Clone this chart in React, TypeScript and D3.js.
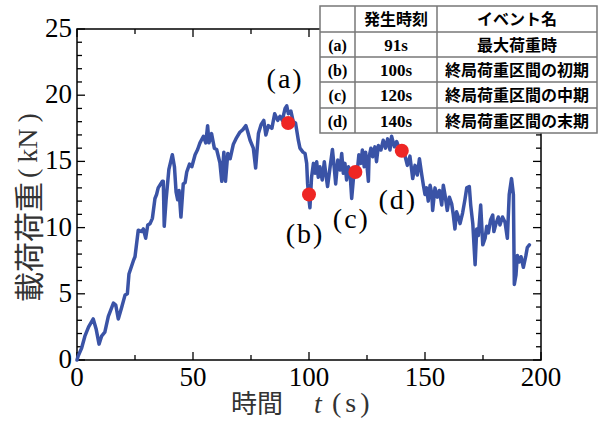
import React from "react";
import * as d3 from "d3";

const timeS: number[] = [0,0.5,2,3.4,5,7,8.3,9.5,10.6,12,13.5,15.7,16.7,17.8,19.3,20.7,21.7,22.4,24.3,25,26.4,27.9,28.6,29.6,30.5,31.5,32.5,33.6,34.3,35,36.8,37.2,37.6,38.4,39.6,41.1,42,42.7,43.4,44,44.8,45.8,46.6,47.3,48.5,49.5,50.9,52,53,54.5,55.5,56.3,56.9,58,59.2,60.2,61.6,62.4,63.3,64,65,66,67.4,68.8,70.2,71.5,72.8,73.5,74.6,76,77,78.2,79.4,80.5,81.4,82.5,84,85.2,86.5,87.5,88.5,89.7,90.4,91.1,92.2,93.2,94.2,95.4,96.1,97.4,98.3,99,99.4,100,100.4,101.1,101.9,102.6,103.3,104,104.7,105.7,106.6,107.2,108,109.1,110.1,110.9,111.5,112.4,113.4,114.1,114.8,115.5,116.2,117,117.7,118.4,119.1,119.8,121,121.5,122.4,123,123.8,124.4,125.3,125.6,125.9,126.7,127.4,128.4,129.1,129.9,131,132,133,133.9,134.9,135.6,136.8,137.8,138.8,140,141.4,142.4,143.5,144.7,145.7,146.7,147.6,148.6,149.3,150,150.7,151.4,152.2,152.9,153.3,154.3,155.3,156.2,157.2,157.9,158.6,159.6,160.5,161.5,162.2,162.9,163.6,164.4,165.1,166.2,167.2,168,169.1,169.7,170.6,171.6,172.3,173,174,174.9,175.9,176.6,177.3,178.3,179.2,179.7,180.6,181.6,182.3,183.4,184.5,185.5,186.3,187.3,188.1,188.5,189.2,189.8,190.6,191.4,192.4,193.5,194.1,195];
const loadKN: number[] = [0,0.3,0.9,1.8,2.5,3.1,2.3,1.2,1.8,2.1,3.3,4.3,4.15,3.1,4.0,4.9,5.0,6.5,7.5,7.8,9.8,9.7,9.9,9.2,10.2,10.3,10.7,12.2,12.5,13.0,13.5,13.5,10.1,12.1,14.4,15.5,14.6,12.7,12.1,12.8,10.8,13.3,13.4,14.2,14.8,14.6,15.5,15.9,16.4,16.9,16.4,17.7,16.4,17.1,16.0,15.9,14.9,13.5,15.7,13.5,15.6,15.2,16.3,16.8,17.2,17.4,17.7,17.3,16.6,16.0,14.5,17.1,17.8,18.1,17.0,17.7,17.5,18.6,18.1,18.4,18.1,19.0,19.2,18.6,18.8,18.0,17.9,16.6,16.0,15.7,15.6,14.85,13.3,12.1,11.5,13.8,14.85,14.1,14.98,13.8,14.6,13.6,14.98,14.1,13.1,14.6,15.9,14.5,13.3,15.1,14.35,15.6,14.1,14.85,13.6,14.6,14.1,12.2,13.6,14.5,14.6,15.5,14.85,15.86,14.6,15.7,14.1,13.5,15.35,16.0,15.35,16.1,14.98,16.2,15.86,16.6,16.0,16.7,15.86,16.9,16.1,16.5,16.0,16.0,15.4,14.7,15.4,13.7,14.7,13.97,15.2,14.0,13.2,12.5,13.0,12.0,13.2,12.6,11.3,13.0,12.3,12.8,11.7,13.2,12.5,11.3,12.3,11.8,10.95,9.9,11.2,10.8,10.3,11.1,12.1,13.0,13.1,11.7,10.3,7.2,9.9,9.4,11.7,8.7,9.2,10.1,9.6,10.6,10.95,9.7,10.3,10.8,10.2,10.8,10.4,9.2,12.5,13.7,12.5,5.7,6.4,7.9,7.4,7.8,7.0,7.9,8.5,8.7];

const eventLabels: string[] = ["(a)", "(b)", "(c)", "(d)"];
const eventTimes: number[] = [91, 100, 120, 140];
const eventLoads: number[] = [17.9, 12.5, 14.2, 15.8];
const eventTimeText: string[] = ["91s", "100s", "120s", "140s"];
const eventNames: string[] = ["最大荷重時", "終局荷重区間の初期", "終局荷重区間の中期", "終局荷重区間の末期"];
const tableHeaders: string[] = ["", "発生時刻", "イベント名"];

const xMajorTicks: number[] = [0, 50, 100, 150, 200];
const yMajorTicks: number[] = [0, 5, 10, 15, 20, 25];

export default function App() {
  const W = 601, H = 421;
  const x = d3.scaleLinear().domain([0, 200]).range([77, 541]);
  const y = d3.scaleLinear().domain([0, 25]).range([360, 29]);
  const pts = timeS.map((t, i) => [t, loadKN[i]] as [number, number]);
  const line = d3.line<[number, number]>().x(d => x(d[0])).y(d => y(d[1]));

  const serif = "'Liberation Serif', 'Times New Roman', serif";
  const cjk = "'Noto Sans CJK JP', sans-serif";

  const xMinor = d3.range(0, 201, 25);
  const yMinor = d3.range(0, 26, 1);

  const annOff: [number, number][] = [[-3, -35], [-4, 48], [-4, 56], [-4, 58]];

  const colX = [320, 355, 437, 597];
  const rowY = [6, 32, 57, 82, 108, 133];

  return (
    <svg width={W} height={H} style={{ position: "absolute", left: 0, top: 0, background: "#fff" }}>
      <rect x={0} y={0} width={W} height={H} fill="#fff" />
      <rect x={x(0)} y={y(25)} width={x(200) - x(0)} height={y(0) - y(25)} fill="none" stroke="#000" strokeWidth={1.5} />
      {xMinor.map(v => {
        const len = v % 50 === 0 ? 8 : 5;
        return (
          <g key={"xt" + v}>
            <line x1={x(v)} x2={x(v)} y1={y(0)} y2={y(0) - len} stroke="#000" strokeWidth={1.3} />
            <line x1={x(v)} x2={x(v)} y1={y(25)} y2={y(25) + len} stroke="#000" strokeWidth={1.3} />
          </g>
        );
      })}
      {yMinor.map(v => {
        const len = v % 5 === 0 ? 8 : 5;
        return (
          <g key={"yt" + v}>
            <line x1={x(0)} x2={x(0) + len} y1={y(v)} y2={y(v)} stroke="#000" strokeWidth={1.3} />
            <line x1={x(200)} x2={x(200) - len} y1={y(v)} y2={y(v)} stroke="#000" strokeWidth={1.3} />
          </g>
        );
      })}
      {xMajorTicks.map(v => (
        <text key={"xl" + v} x={x(v)} y={y(0) + 26} textAnchor="middle" fontFamily={serif} fontSize={27} fill="#000">{v}</text>
      ))}
      {yMajorTicks.map(v => (
        <text key={"yl" + v} x={x(0) - 5} y={y(v) + 8} textAnchor="end" fontFamily={serif} fontSize={27} fill="#000">{v}</text>
      ))}
      {/* x axis title */}
      <text x={231} y={413} fontFamily={cjk} fontSize={26} fill="#333">時間</text>
      <text x={314} y={413} fontFamily={serif} fontStyle="italic" fontSize={28} fill="#333">t</text>
      <text x={332} y={412} fontFamily={serif} fontSize={28} fill="#333">
        <tspan>(</tspan><tspan dx={4}>s</tspan><tspan dx={4}>)</tspan>
      </text>
      {/* y axis title */}
      <g transform="translate(40,0) rotate(-90)">
        <text x={-302} y={0} fontFamily={cjk} fontSize={30} fill="#333">載荷荷重</text>
        <text x={-178} y={-3} fontFamily={serif} fontSize={28} fill="#333">
          <tspan>(</tspan><tspan dx={6}>kN</tspan><tspan dx={6}>)</tspan>
        </text>
      </g>
      <path d={line(pts) || ""} fill="none" stroke="#3a53a6" strokeWidth={3.5} strokeLinejoin="round" strokeLinecap="round" />
      {eventTimes.map((t, i) => (
        <circle key={"ev" + i} cx={x(t)} cy={y(eventLoads[i])} r={7} fill="#ee2624" />
      ))}
      {eventTimes.map((t, i) => (
        <text key={"evl" + i} x={x(t) + annOff[i][0]} y={y(eventLoads[i]) + annOff[i][1]} textAnchor="middle" fontFamily={serif} fontSize={28} letterSpacing={2} fill="#000">{eventLabels[i]}</text>
      ))}
      {/* table */}
      <rect x={colX[0]} y={rowY[0]} width={colX[3] - colX[0]} height={rowY[5] - rowY[0]} fill="#fff" stroke="#777" strokeWidth={1.5} />
      {rowY.slice(1, 5).map((ry, i) => (
        <line key={"rl" + i} x1={colX[0]} x2={colX[3]} y1={ry} y2={ry} stroke="#777" strokeWidth={1.5} />
      ))}
      {colX.slice(1, 3).map((cx, i) => (
        <line key={"cl" + i} x1={cx} x2={cx} y1={rowY[0]} y2={rowY[5]} stroke="#777" strokeWidth={1.5} />
      ))}
      {tableHeaders.map((h, i) => (
        <text key={"th" + i} x={(colX[i] + colX[i + 1]) / 2} y={(rowY[0] + rowY[1]) / 2 + 6} textAnchor="middle" fontFamily={cjk} fontWeight={700} fontSize={16} fill="#000">{h}</text>
      ))}
      {eventLabels.map((lab, i) => {
        const cy = (rowY[i + 1] + rowY[i + 2]) / 2 + 6;
        return (
          <g key={"tr" + i}>
            <text x={(colX[0] + colX[1]) / 2} y={cy} textAnchor="middle" fontFamily={serif} fontWeight={700} fontSize={16} fill="#000">{lab}</text>
            <text x={(colX[1] + colX[2]) / 2} y={cy} textAnchor="middle" fontFamily={serif} fontWeight={700} fontSize={17} fill="#000">{eventTimeText[i]}</text>
            <text x={(colX[2] + colX[3]) / 2} y={cy} textAnchor="middle" fontFamily={cjk} fontWeight={700} fontSize={16} fill="#000">{eventNames[i]}</text>
          </g>
        );
      })}
    </svg>
  );
}
